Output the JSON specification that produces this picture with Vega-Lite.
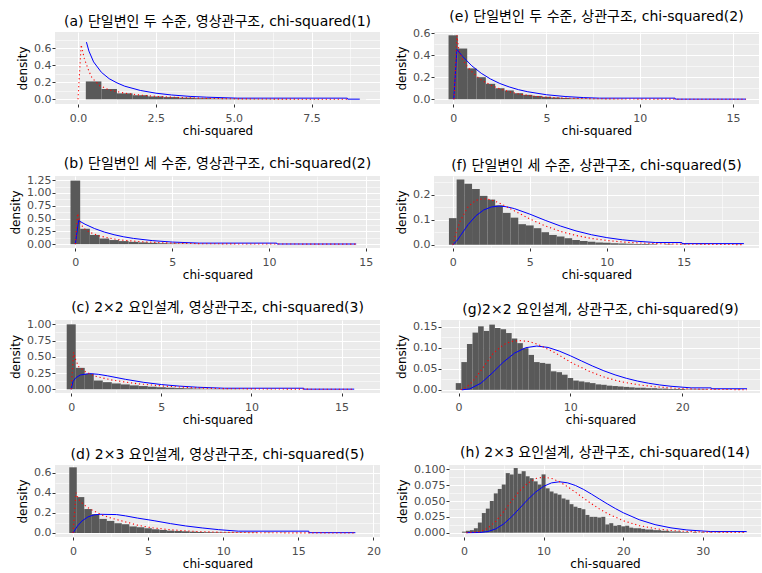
{
"$schema":"https://vega.github.io/schema/vega-lite/v6.json",
"padding":{"left":9,"top":10,"right":0,"bottom":0},
"config":{
"view":{"fill":"#EBEBEB","stroke":null},
"font":"DejaVu Sans, Noto Sans CJK KR",
"axis":{"domain":false,"grid":true,"gridColor":"#FFFFFF","tickColor":"#333333","tickSize":3,"tickWidth":1,"labelColor":"#4D4D4D","labelFont":"DejaVu Sans","labelFontSize":11,"labelPadding":1,"titleFont":"DejaVu Sans","titleFontSize":12,"titleFontWeight":"normal","titleColor":"#000000","titlePadding":4,"labelOverlap":false,"labelFlush":false},
"axisX":{"labelPadding":5,"titlePadding":2},
"title":{"fontSize":14,"fontWeight":"normal","color":"#000000","anchor":"middle","frame":"group","offset":3,"baseline":"alphabetic","font":"DejaVu Sans, Noto Sans CJK KR"}
},
"datasets":{
"a":[
{"k":"h","x":0.25,"x2":0.75,"y":0.21},{"k":"h","x":0.75,"x2":1.25,"y":0.12},{"k":"h","x":1.25,"x2":1.75,"y":0.07},{"k":"h","x":1.75,"x2":2.25,"y":0.048},{"k":"h","x":2.25,"x2":2.75,"y":0.034},{"k":"h","x":2.75,"x2":3.25,"y":0.026},{"k":"h","x":3.25,"x2":3.75,"y":0.019},{"k":"h","x":3.75,"x2":4.25,"y":0.013},{"k":"h","x":4.25,"x2":4.75,"y":0.009},{"k":"h","x":4.75,"x2":5.25,"y":0.007},{"k":"h","x":5.25,"x2":5.75,"y":0.005},{"k":"h","x":5.75,"x2":6.25,"y":0.004},{"k":"h","x":6.25,"x2":6.75,"y":0.003},{"k":"h","x":6.75,"x2":7.25,"y":0.002},{"k":"h","x":7.25,"x2":7.75,"y":0.002},{"k":"h","x":7.75,"x2":8.25,"y":0.001},{"k":"h","x":8.25,"x2":8.75,"y":0.001},{"k":"h","x":8.75,"x2":9.25,"y":0.001},
{"k":"b","x":0.27,"y":0.671},{"k":"b","x":0.35,"y":0.566},{"k":"b","x":0.5,"y":0.439},{"k":"b","x":0.75,"y":0.317},{"k":"b","x":1,"y":0.242},{"k":"b","x":1.25,"y":0.193},{"k":"b","x":1.5,"y":0.154},{"k":"b","x":2,"y":0.104},{"k":"b","x":2.5,"y":0.072},{"k":"b","x":3,"y":0.051},{"k":"b","x":3.6,"y":0.034},{"k":"b","x":4.13,"y":0.025},{"k":"b","x":5.13,"y":0.0137},{"k":"b","x":8.65,"y":0.0137},{"k":"b","x":8.66,"y":0.0019},{"k":"b","x":9.05,"y":0.0019},
{"k":"r","x":0,"y":0},{"k":"r","x":0.1,"y":0.64},{"k":"r","x":0.2,"y":0.48},{"k":"r","x":0.35,"y":0.33},{"k":"r","x":0.45,"y":0.25},{"k":"r","x":0.7,"y":0.16},{"k":"r","x":1,"y":0.11},{"k":"r","x":1.5,"y":0.072},{"k":"r","x":2,"y":0.05},{"k":"r","x":2.5,"y":0.035},{"k":"r","x":3,"y":0.025},{"k":"r","x":4,"y":0.012},{"k":"r","x":5,"y":0.006},{"k":"r","x":6.5,"y":0.002},{"k":"r","x":8.7,"y":0.0005}
],
"e":[
{"k":"h","x":-0.25,"x2":0.25,"y":0.58},{"k":"h","x":0.25,"x2":0.75,"y":0.46},{"k":"h","x":0.75,"x2":1.25,"y":0.28},{"k":"h","x":1.25,"x2":1.75,"y":0.2},{"k":"h","x":1.75,"x2":2.25,"y":0.14},{"k":"h","x":2.25,"x2":2.75,"y":0.1},{"k":"h","x":2.75,"x2":3.25,"y":0.08},{"k":"h","x":3.25,"x2":3.75,"y":0.055},{"k":"h","x":3.75,"x2":4.25,"y":0.04},{"k":"h","x":4.25,"x2":4.75,"y":0.03},{"k":"h","x":4.75,"x2":5.25,"y":0.022},{"k":"h","x":5.25,"x2":5.75,"y":0.016},{"k":"h","x":5.75,"x2":6.25,"y":0.012},{"k":"h","x":6.25,"x2":6.75,"y":0.008},{"k":"h","x":6.75,"x2":7.25,"y":0.006},{"k":"h","x":7.25,"x2":7.75,"y":0.004},{"k":"h","x":7.75,"x2":8.25,"y":0.003},{"k":"h","x":8.25,"x2":8.75,"y":0.002},{"k":"h","x":8.75,"x2":9.25,"y":0.0015},{"k":"h","x":9.75,"x2":10.25,"y":0.001},{"k":"h","x":10.75,"x2":11.25,"y":0.001},{"k":"h","x":11.75,"x2":12.25,"y":0.0005},{"k":"h","x":15.25,"x2":15.75,"y":0.0005},
{"k":"b","x":0.03,"y":0},{"k":"b","x":0.2,"y":0.452},{"k":"b","x":0.5,"y":0.389},{"k":"b","x":1,"y":0.303},{"k":"b","x":1.5,"y":0.236},{"k":"b","x":2,"y":0.184},{"k":"b","x":2.5,"y":0.143},{"k":"b","x":3,"y":0.112},{"k":"b","x":3.5,"y":0.087},{"k":"b","x":4,"y":0.068},{"k":"b","x":5,"y":0.041},{"k":"b","x":6,"y":0.025},{"k":"b","x":7,"y":0.015},{"k":"b","x":7.84,"y":0.01},{"k":"b","x":11.9,"y":0.01},{"k":"b","x":11.91,"y":0.0013},{"k":"b","x":15.7,"y":0.0013},
{"k":"r","x":0.05,"y":0},{"k":"r","x":0.2,"y":0.58},{"k":"r","x":0.3,"y":0.45},{"k":"r","x":0.5,"y":0.36},{"k":"r","x":0.78,"y":0.29},{"k":"r","x":1,"y":0.25},{"k":"r","x":1.45,"y":0.18},{"k":"r","x":2,"y":0.13},{"k":"r","x":2.4,"y":0.1},{"k":"r","x":3,"y":0.068},{"k":"r","x":3.6,"y":0.045},{"k":"r","x":4.5,"y":0.025},{"k":"r","x":5.5,"y":0.014},{"k":"r","x":6.5,"y":0.008},{"k":"r","x":8,"y":0.004},{"k":"r","x":10,"y":0.0015},{"k":"r","x":12,"y":0.0007},{"k":"r","x":15.7,"y":0.0001}
],
"b":[
{"k":"h","x":-0.25,"x2":0.25,"y":1.24},{"k":"h","x":0.25,"x2":0.75,"y":0.3},{"k":"h","x":0.75,"x2":1.25,"y":0.18},{"k":"h","x":1.25,"x2":1.75,"y":0.11},{"k":"h","x":1.75,"x2":2.25,"y":0.08},{"k":"h","x":2.25,"x2":2.75,"y":0.06},{"k":"h","x":2.75,"x2":3.25,"y":0.045},{"k":"h","x":3.25,"x2":3.75,"y":0.035},{"k":"h","x":3.75,"x2":4.25,"y":0.026},{"k":"h","x":4.25,"x2":4.75,"y":0.019},{"k":"h","x":4.75,"x2":5.25,"y":0.014},{"k":"h","x":5.25,"x2":5.75,"y":0.01},{"k":"h","x":5.75,"x2":6.25,"y":0.007},{"k":"h","x":6.25,"x2":6.75,"y":0.005},{"k":"h","x":6.75,"x2":7.25,"y":0.004},{"k":"h","x":7.25,"x2":7.75,"y":0.003},{"k":"h","x":7.75,"x2":8.25,"y":0.002},{"k":"h","x":8.75,"x2":9.25,"y":0.0015},{"k":"h","x":9.75,"x2":10.25,"y":0.001},{"k":"h","x":10.75,"x2":11.25,"y":0.0005},{"k":"h","x":14.25,"x2":14.75,"y":0.0005},
{"k":"b","x":0,"y":0},{"k":"b","x":0.17,"y":0.46},{"k":"b","x":0.5,"y":0.389},{"k":"b","x":1,"y":0.303},{"k":"b","x":1.5,"y":0.236},{"k":"b","x":2,"y":0.184},{"k":"b","x":2.5,"y":0.143},{"k":"b","x":3,"y":0.112},{"k":"b","x":4,"y":0.068},{"k":"b","x":5,"y":0.041},{"k":"b","x":6.4,"y":0.0204},{"k":"b","x":10.4,"y":0.0204},{"k":"b","x":10.41,"y":0.0028},{"k":"b","x":14.5,"y":0.0028},
{"k":"r","x":0,"y":0},{"k":"r","x":0.12,"y":0.6},{"k":"r","x":0.25,"y":0.4},{"k":"r","x":0.5,"y":0.29},{"k":"r","x":0.75,"y":0.23},{"k":"r","x":1.25,"y":0.16},{"k":"r","x":2,"y":0.1},{"k":"r","x":2.5,"y":0.075},{"k":"r","x":3.5,"y":0.045},{"k":"r","x":5,"y":0.02},{"k":"r","x":6.5,"y":0.009},{"k":"r","x":8.5,"y":0.004},{"k":"r","x":10.5,"y":0.002},{"k":"r","x":14.5,"y":0.0005}
],
"f":[
{"k":"h","x":-0.25,"x2":0.25,"y":0.106},{"k":"h","x":0.25,"x2":0.75,"y":0.26},{"k":"h","x":0.75,"x2":1.25,"y":0.243},{"k":"h","x":1.25,"x2":1.75,"y":0.222},{"k":"h","x":1.75,"x2":2.25,"y":0.195},{"k":"h","x":2.25,"x2":2.75,"y":0.18},{"k":"h","x":2.75,"x2":3.25,"y":0.157},{"k":"h","x":3.25,"x2":3.75,"y":0.127},{"k":"h","x":3.75,"x2":4.25,"y":0.108},{"k":"h","x":4.25,"x2":4.75,"y":0.082},{"k":"h","x":4.75,"x2":5.25,"y":0.077},{"k":"h","x":5.25,"x2":5.75,"y":0.066},{"k":"h","x":5.75,"x2":6.25,"y":0.05},{"k":"h","x":6.25,"x2":6.75,"y":0.039},{"k":"h","x":6.75,"x2":7.25,"y":0.033},{"k":"h","x":7.25,"x2":7.75,"y":0.026},{"k":"h","x":7.75,"x2":8.25,"y":0.019},{"k":"h","x":8.25,"x2":8.75,"y":0.015},{"k":"h","x":8.75,"x2":9.25,"y":0.012},{"k":"h","x":9.25,"x2":9.75,"y":0.009},{"k":"h","x":9.75,"x2":10.25,"y":0.008},{"k":"h","x":10.25,"x2":10.75,"y":0.006},{"k":"h","x":10.75,"x2":11.25,"y":0.005},{"k":"h","x":11.25,"x2":11.75,"y":0.004},{"k":"h","x":11.75,"x2":12.25,"y":0.003},{"k":"h","x":12.25,"x2":12.75,"y":0.003},{"k":"h","x":12.75,"x2":13.25,"y":0.002},{"k":"h","x":13.75,"x2":14.25,"y":0.0015},{"k":"h","x":14.75,"x2":15.25,"y":0.001},{"k":"h","x":15.75,"x2":16.25,"y":0.0005},{"k":"h","x":18.25,"x2":18.75,"y":0.0005},
{"k":"b","x":0,"y":0},{"k":"b","x":0.25,"y":0.0147},{"k":"b","x":0.5,"y":0.0366},{"k":"b","x":1,"y":0.0807},{"k":"b","x":1.5,"y":0.1154},{"k":"b","x":2,"y":0.1384},{"k":"b","x":2.5,"y":0.1506},{"k":"b","x":3,"y":0.1542},{"k":"b","x":3.5,"y":0.1513},{"k":"b","x":4,"y":0.144},{"k":"b","x":5,"y":0.122},{"k":"b","x":6,"y":0.0973},{"k":"b","x":7,"y":0.0744},{"k":"b","x":8,"y":0.0551},{"k":"b","x":9,"y":0.0399},{"k":"b","x":10,"y":0.0283},{"k":"b","x":11,"y":0.0198},{"k":"b","x":12,"y":0.0137},{"k":"b","x":13.15,"y":0.0088},{"k":"b","x":14.87,"y":0.0088},{"k":"b","x":14.88,"y":0.0045},{"k":"b","x":18.9,"y":0.0045},
{"k":"r","x":0,"y":0},{"k":"r","x":0.25,"y":0.055},{"k":"r","x":0.5,"y":0.097},{"k":"r","x":1,"y":0.152},{"k":"r","x":1.5,"y":0.177},{"k":"r","x":2,"y":0.184},{"k":"r","x":2.5,"y":0.179},{"k":"r","x":3,"y":0.167},{"k":"r","x":4,"y":0.135},{"k":"r","x":5,"y":0.103},{"k":"r","x":6,"y":0.075},{"k":"r","x":7,"y":0.053},{"k":"r","x":8,"y":0.037},{"k":"r","x":9,"y":0.025},{"k":"r","x":10,"y":0.017},{"k":"r","x":11,"y":0.011},{"k":"r","x":12,"y":0.0074},{"k":"r","x":13.2,"y":0.0045},{"k":"r","x":14.9,"y":0.0022},{"k":"r","x":18.9,"y":0.0004}
],
"c":[
{"k":"h","x":-0.25,"x2":0.25,"y":1.0},{"k":"h","x":0.25,"x2":0.75,"y":0.33},{"k":"h","x":0.75,"x2":1.25,"y":0.24},{"k":"h","x":1.25,"x2":1.75,"y":0.135},{"k":"h","x":1.75,"x2":2.25,"y":0.11},{"k":"h","x":2.25,"x2":2.75,"y":0.09},{"k":"h","x":2.75,"x2":3.25,"y":0.075},{"k":"h","x":3.25,"x2":3.75,"y":0.06},{"k":"h","x":3.75,"x2":4.25,"y":0.05},{"k":"h","x":4.25,"x2":4.75,"y":0.04},{"k":"h","x":4.75,"x2":5.25,"y":0.032},{"k":"h","x":5.25,"x2":5.75,"y":0.025},{"k":"h","x":5.75,"x2":6.25,"y":0.019},{"k":"h","x":6.25,"x2":6.75,"y":0.015},{"k":"h","x":6.75,"x2":7.25,"y":0.011},{"k":"h","x":7.25,"x2":7.75,"y":0.008},{"k":"h","x":7.75,"x2":8.25,"y":0.006},{"k":"h","x":8.25,"x2":8.75,"y":0.005},{"k":"h","x":8.75,"x2":9.25,"y":0.004},{"k":"h","x":9.25,"x2":9.75,"y":0.003},{"k":"h","x":9.75,"x2":10.25,"y":0.002},{"k":"h","x":10.75,"x2":11.25,"y":0.0015},{"k":"h","x":11.75,"x2":12.25,"y":0.001},{"k":"h","x":12.75,"x2":13.25,"y":0.0005},
{"k":"b","x":0,"y":0},{"k":"b","x":0.1,"y":0.12},{"k":"b","x":0.25,"y":0.176},{"k":"b","x":0.5,"y":0.22},{"k":"b","x":1,"y":0.242},{"k":"b","x":1.5,"y":0.231},{"k":"b","x":2,"y":0.208},{"k":"b","x":3,"y":0.154},{"k":"b","x":4,"y":0.108},{"k":"b","x":5,"y":0.073},{"k":"b","x":6,"y":0.049},{"k":"b","x":7,"y":0.032},{"k":"b","x":8.5,"y":0.0166},{"k":"b","x":12.9,"y":0.0166},{"k":"b","x":12.91,"y":0.0022},{"k":"b","x":15.7,"y":0.0022},
{"k":"r","x":0,"y":0},{"k":"r","x":0.13,"y":0.57},{"k":"r","x":0.25,"y":0.45},{"k":"r","x":0.41,"y":0.35},{"k":"r","x":0.79,"y":0.27},{"k":"r","x":1.35,"y":0.2},{"k":"r","x":2.3,"y":0.14},{"k":"r","x":3.6,"y":0.088},{"k":"r","x":5.1,"y":0.05},{"k":"r","x":7,"y":0.02},{"k":"r","x":8.5,"y":0.01},{"k":"r","x":10.7,"y":0.005},{"k":"r","x":13,"y":0.002},{"k":"r","x":15.7,"y":0.0005}
],
"g":[
{"k":"h","x":-0.25,"x2":0.25,"y":0.016},{"k":"h","x":0.25,"x2":0.75,"y":0.066},{"k":"h","x":0.75,"x2":1.25,"y":0.109},{"k":"h","x":1.25,"x2":1.75,"y":0.136},{"k":"h","x":1.75,"x2":2.25,"y":0.151},{"k":"h","x":2.25,"x2":2.75,"y":0.14},{"k":"h","x":2.75,"x2":3.25,"y":0.155},{"k":"h","x":3.25,"x2":3.75,"y":0.147},{"k":"h","x":3.75,"x2":4.25,"y":0.144},{"k":"h","x":4.25,"x2":4.75,"y":0.135},{"k":"h","x":4.75,"x2":5.25,"y":0.122},{"k":"h","x":5.25,"x2":5.75,"y":0.111},{"k":"h","x":5.75,"x2":6.25,"y":0.099},{"k":"h","x":6.25,"x2":6.75,"y":0.083},{"k":"h","x":6.75,"x2":7.25,"y":0.066},{"k":"h","x":7.25,"x2":7.75,"y":0.064},{"k":"h","x":7.75,"x2":8.25,"y":0.062},{"k":"h","x":8.25,"x2":8.75,"y":0.044},{"k":"h","x":8.75,"x2":9.25,"y":0.042},{"k":"h","x":9.25,"x2":9.75,"y":0.036},{"k":"h","x":9.75,"x2":10.25,"y":0.028},{"k":"h","x":10.25,"x2":10.75,"y":0.022},{"k":"h","x":10.75,"x2":11.25,"y":0.02},{"k":"h","x":11.25,"x2":11.75,"y":0.018},{"k":"h","x":11.75,"x2":12.25,"y":0.016},{"k":"h","x":12.25,"x2":12.75,"y":0.013},{"k":"h","x":12.75,"x2":13.25,"y":0.012},{"k":"h","x":13.25,"x2":13.75,"y":0.01},{"k":"h","x":13.75,"x2":14.25,"y":0.009},{"k":"h","x":14.25,"x2":14.75,"y":0.008},{"k":"h","x":14.75,"x2":15.25,"y":0.007},{"k":"h","x":15.25,"x2":15.75,"y":0.006},{"k":"h","x":15.75,"x2":16.25,"y":0.005},{"k":"h","x":16.25,"x2":16.75,"y":0.005},{"k":"h","x":16.75,"x2":17.25,"y":0.004},{"k":"h","x":17.25,"x2":17.75,"y":0.004},{"k":"h","x":17.75,"x2":18.25,"y":0.003},{"k":"h","x":18.25,"x2":18.75,"y":0.003},{"k":"h","x":18.75,"x2":19.25,"y":0.002},{"k":"h","x":19.25,"x2":19.75,"y":0.002},{"k":"h","x":19.75,"x2":20.25,"y":0.002},{"k":"h","x":20.25,"x2":20.75,"y":0.001},{"k":"h","x":20.75,"x2":21.25,"y":0.001},{"k":"h","x":21.25,"x2":21.75,"y":0.001},{"k":"h","x":21.75,"x2":22.25,"y":0.001},{"k":"h","x":22.75,"x2":23.25,"y":0.0005},{"k":"h","x":23.75,"x2":24.25,"y":0.0005},{"k":"h","x":24.75,"x2":25.25,"y":0.0005},
{"k":"b","x":0.3,"y":0},{"k":"b","x":1,"y":0.0023},{"k":"b","x":2,"y":0.0158},{"k":"b","x":3,"y":0.0396},{"k":"b","x":4,"y":0.0658},{"k":"b","x":5,"y":0.0872},{"k":"b","x":6,"y":0.1001},{"k":"b","x":7,"y":0.1041},{"k":"b","x":8,"y":0.1008},{"k":"b","x":9,"y":0.0922},{"k":"b","x":10,"y":0.081},{"k":"b","x":11,"y":0.0686},{"k":"b","x":12,"y":0.0564},{"k":"b","x":13,"y":0.0452},{"k":"b","x":14,"y":0.0356},{"k":"b","x":15,"y":0.0275},{"k":"b","x":16,"y":0.0209},{"k":"b","x":17,"y":0.0157},{"k":"b","x":18,"y":0.0116},{"k":"b","x":19,"y":0.0085},{"k":"b","x":20.8,"y":0.0047},{"k":"b","x":22.6,"y":0.0047},{"k":"b","x":22.61,"y":0.0026},{"k":"b","x":25.8,"y":0.0026},
{"k":"r","x":0.2,"y":0},{"k":"r","x":0.7,"y":0.006},{"k":"r","x":1.3,"y":0.021},{"k":"r","x":2.2,"y":0.053},{"k":"r","x":3.1,"y":0.087},{"k":"r","x":4,"y":0.107},{"k":"r","x":4.7,"y":0.115},{"k":"r","x":5.45,"y":0.117},{"k":"r","x":6.3,"y":0.115},{"k":"r","x":7.2,"y":0.107},{"k":"r","x":8.7,"y":0.087},{"k":"r","x":10.2,"y":0.063},{"k":"r","x":11.7,"y":0.044},{"k":"r","x":13.15,"y":0.029},{"k":"r","x":14.6,"y":0.019},{"k":"r","x":16.1,"y":0.012},{"k":"r","x":17.5,"y":0.0075},{"k":"r","x":19.8,"y":0.003},{"k":"r","x":22,"y":0.0013},{"k":"r","x":25.8,"y":0.0003}
],
"d":[
{"k":"h","x":-0.25,"x2":0.25,"y":0.653},{"k":"h","x":0.25,"x2":0.75,"y":0.357},{"k":"h","x":0.75,"x2":1.25,"y":0.238},{"k":"h","x":1.25,"x2":1.75,"y":0.187},{"k":"h","x":1.75,"x2":2.25,"y":0.14},{"k":"h","x":2.25,"x2":2.75,"y":0.12},{"k":"h","x":2.75,"x2":3.25,"y":0.097},{"k":"h","x":3.25,"x2":3.75,"y":0.087},{"k":"h","x":3.75,"x2":4.25,"y":0.065},{"k":"h","x":4.25,"x2":4.75,"y":0.057},{"k":"h","x":4.75,"x2":5.25,"y":0.047},{"k":"h","x":5.25,"x2":5.75,"y":0.037},{"k":"h","x":5.75,"x2":6.25,"y":0.03},{"k":"h","x":6.25,"x2":6.75,"y":0.023},{"k":"h","x":6.75,"x2":7.25,"y":0.02},{"k":"h","x":7.25,"x2":7.75,"y":0.017},{"k":"h","x":7.75,"x2":8.25,"y":0.013},{"k":"h","x":8.25,"x2":8.75,"y":0.01},{"k":"h","x":8.75,"x2":9.25,"y":0.008},{"k":"h","x":9.25,"x2":9.75,"y":0.007},{"k":"h","x":9.75,"x2":10.25,"y":0.006},{"k":"h","x":10.25,"x2":10.75,"y":0.005},{"k":"h","x":10.75,"x2":11.25,"y":0.004},{"k":"h","x":11.25,"x2":11.75,"y":0.003},{"k":"h","x":11.75,"x2":12.25,"y":0.003},{"k":"h","x":12.75,"x2":13.25,"y":0.002},{"k":"h","x":13.75,"x2":14.25,"y":0.0015},{"k":"h","x":14.75,"x2":15.25,"y":0.001},{"k":"h","x":15.75,"x2":16.25,"y":0.001},{"k":"h","x":16.75,"x2":17.25,"y":0.0005},{"k":"h","x":18.25,"x2":18.75,"y":0.0005},
{"k":"b","x":0,"y":0},{"k":"b","x":0.3,"y":0.07},{"k":"b","x":0.6,"y":0.12},{"k":"b","x":1,"y":0.16},{"k":"b","x":1.4,"y":0.18},{"k":"b","x":1.8,"y":0.186},{"k":"b","x":2.9,"y":0.183},{"k":"b","x":3.5,"y":0.17},{"k":"b","x":4.3,"y":0.148},{"k":"b","x":5.4,"y":0.122},{"k":"b","x":6.5,"y":0.093},{"k":"b","x":7.5,"y":0.07},{"k":"b","x":8.6,"y":0.05},{"k":"b","x":9.7,"y":0.033},{"k":"b","x":11,"y":0.018},{"k":"b","x":15.7,"y":0.018},{"k":"b","x":15.71,"y":0.003},{"k":"b","x":18.8,"y":0.003},
{"k":"r","x":0,"y":0},{"k":"r","x":0.2,"y":0.4},{"k":"r","x":0.35,"y":0.34},{"k":"r","x":0.65,"y":0.29},{"k":"r","x":1,"y":0.25},{"k":"r","x":1.5,"y":0.21},{"k":"r","x":2,"y":0.175},{"k":"r","x":2.6,"y":0.145},{"k":"r","x":3.5,"y":0.11},{"k":"r","x":4.3,"y":0.078},{"k":"r","x":5.2,"y":0.053},{"k":"r","x":6.3,"y":0.035},{"k":"r","x":7.4,"y":0.022},{"k":"r","x":8.5,"y":0.013},{"k":"r","x":10,"y":0.007},{"k":"r","x":11,"y":0.005},{"k":"r","x":13,"y":0.002},{"k":"r","x":15.7,"y":0.0007},{"k":"r","x":18.8,"y":0.0002}
],
"h":[
{"k":"h","x":-0.25,"x2":0.25,"y":0.0016},{"k":"h","x":0.25,"x2":0.75,"y":0.003},{"k":"h","x":0.75,"x2":1.25,"y":0.004},{"k":"h","x":1.25,"x2":1.75,"y":0.007},{"k":"h","x":1.75,"x2":2.25,"y":0.016},{"k":"h","x":2.25,"x2":2.75,"y":0.031},{"k":"h","x":2.75,"x2":3.25,"y":0.038},{"k":"h","x":3.25,"x2":3.75,"y":0.05},{"k":"h","x":3.75,"x2":4.25,"y":0.062},{"k":"h","x":4.25,"x2":4.75,"y":0.069},{"k":"h","x":4.75,"x2":5.25,"y":0.076},{"k":"h","x":5.25,"x2":5.75,"y":0.094},{"k":"h","x":5.75,"x2":6.25,"y":0.092},{"k":"h","x":6.25,"x2":6.75,"y":0.102},{"k":"h","x":6.75,"x2":7.25,"y":0.093},{"k":"h","x":7.25,"x2":7.75,"y":0.097},{"k":"h","x":7.75,"x2":8.25,"y":0.089},{"k":"h","x":8.25,"x2":8.75,"y":0.086},{"k":"h","x":8.75,"x2":9.25,"y":0.081},{"k":"h","x":9.25,"x2":9.75,"y":0.076},{"k":"h","x":9.75,"x2":10.25,"y":0.092},{"k":"h","x":10.25,"x2":10.75,"y":0.07},{"k":"h","x":10.75,"x2":11.25,"y":0.065},{"k":"h","x":11.25,"x2":11.75,"y":0.062},{"k":"h","x":11.75,"x2":12.25,"y":0.06},{"k":"h","x":12.25,"x2":12.75,"y":0.054},{"k":"h","x":12.75,"x2":13.25,"y":0.052},{"k":"h","x":13.25,"x2":13.75,"y":0.045},{"k":"h","x":13.75,"x2":14.25,"y":0.041},{"k":"h","x":14.25,"x2":14.75,"y":0.039},{"k":"h","x":14.75,"x2":15.25,"y":0.037},{"k":"h","x":15.25,"x2":15.75,"y":0.028},{"k":"h","x":15.75,"x2":16.25,"y":0.025},{"k":"h","x":16.25,"x2":16.75,"y":0.025},{"k":"h","x":16.75,"x2":17.25,"y":0.024},{"k":"h","x":17.25,"x2":17.75,"y":0.025},{"k":"h","x":17.75,"x2":18.25,"y":0.013},{"k":"h","x":18.25,"x2":18.75,"y":0.015},{"k":"h","x":18.75,"x2":19.25,"y":0.011},{"k":"h","x":19.25,"x2":19.75,"y":0.012},{"k":"h","x":19.75,"x2":20.25,"y":0.01},{"k":"h","x":20.25,"x2":20.75,"y":0.011},{"k":"h","x":20.75,"x2":21.25,"y":0.008},{"k":"h","x":21.25,"x2":21.75,"y":0.007},{"k":"h","x":21.75,"x2":22.25,"y":0.007},{"k":"h","x":22.25,"x2":22.75,"y":0.006},{"k":"h","x":22.75,"x2":23.25,"y":0.005},{"k":"h","x":23.25,"x2":23.75,"y":0.005},{"k":"h","x":23.75,"x2":24.25,"y":0.004},{"k":"h","x":24.25,"x2":24.75,"y":0.004},{"k":"h","x":24.75,"x2":25.25,"y":0.003},{"k":"h","x":25.25,"x2":25.75,"y":0.003},{"k":"h","x":25.75,"x2":26.25,"y":0.002},{"k":"h","x":26.25,"x2":26.75,"y":0.002},{"k":"h","x":26.75,"x2":27.25,"y":0.002},{"k":"h","x":27.25,"x2":27.75,"y":0.001},{"k":"h","x":27.75,"x2":28.25,"y":0.001},{"k":"h","x":28.75,"x2":29.25,"y":0.001},{"k":"h","x":29.75,"x2":30.25,"y":0.0008},{"k":"h","x":30.75,"x2":31.25,"y":0.0005},{"k":"h","x":31.75,"x2":32.25,"y":0.0005},{"k":"h","x":32.75,"x2":33.25,"y":0.0003},{"k":"h","x":34.75,"x2":35.25,"y":0.0003},
{"k":"b","x":0.3,"y":0},{"k":"b","x":2,"y":0.0003},{"k":"b","x":3,"y":0.0018},{"k":"b","x":4,"y":0.006},{"k":"b","x":5,"y":0.0139},{"k":"b","x":6,"y":0.0252},{"k":"b","x":7,"y":0.0386},{"k":"b","x":8,"y":0.0521},{"k":"b","x":9,"y":0.0641},{"k":"b","x":10,"y":0.0731},{"k":"b","x":11,"y":0.0786},{"k":"b","x":12,"y":0.0803},{"k":"b","x":13,"y":0.0787},{"k":"b","x":14,"y":0.0745},{"k":"b","x":15,"y":0.0684},{"k":"b","x":16,"y":0.061},{"k":"b","x":17,"y":0.0532},{"k":"b","x":18,"y":0.0455},{"k":"b","x":19,"y":0.0382},{"k":"b","x":20,"y":0.0315},{"k":"b","x":22,"y":0.0205},{"k":"b","x":24,"y":0.0127},{"k":"b","x":26,"y":0.0076},{"k":"b","x":28,"y":0.0043},{"k":"b","x":31,"y":0.0018},{"k":"b","x":35.5,"y":0.0018},
{"k":"r","x":0.3,"y":0},{"k":"r","x":2,"y":0.0015},{"k":"r","x":3,"y":0.0071},{"k":"r","x":4,"y":0.018},{"k":"r","x":5,"y":0.0334},{"k":"r","x":6,"y":0.0504},{"k":"r","x":7,"y":0.0661},{"k":"r","x":8,"y":0.0781},{"k":"r","x":9,"y":0.0854},{"k":"r","x":10,"y":0.0877},{"k":"r","x":11,"y":0.0857},{"k":"r","x":12,"y":0.0803},{"k":"r","x":13,"y":0.0727},{"k":"r","x":14,"y":0.0639},{"k":"r","x":15,"y":0.0547},{"k":"r","x":16,"y":0.0458},{"k":"r","x":17,"y":0.0376},{"k":"r","x":18,"y":0.0304},{"k":"r","x":20,"y":0.0189},{"k":"r","x":22,"y":0.0112},{"k":"r","x":24,"y":0.0064},{"k":"r","x":26,"y":0.0035},{"k":"r","x":28,"y":0.0019},{"k":"r","x":31,"y":0.0007},{"k":"r","x":35.5,"y":0.0002}
]
},
"spacing":21,
"vconcat":[
{"spacing":15,"hconcat":[
{"width":325,"height":72,"title":"(a) 단일변인 두 수준, 영상관구조, chi-squared(1)","data":{"name":"a"},
"encoding":{
"x":{"field":"x","type":"quantitative","title":"chi-squared","scale":{"domain":[-0.74,9.7],"nice":false,"zero":false},
"axis":{"values":[0,1.25,2.5,3.75,5,6.25,7.5,8.75],"labelExpr":"indexof([0,2.5,5,7.5], datum.value) >= 0 ? format(datum.value, '.1f') : ''","gridWidth":{"condition":{"test":"indexof([0,2.5,5,7.5], datum.value) >= 0","value":1.1},"value":0.55},"tickOpacity":{"condition":{"test":"indexof([0,2.5,5,7.5], datum.value) >= 0","value":1},"value":0}}},
"y":{"field":"y","type":"quantitative","title":"density","scale":{"domain":[-0.055,0.79],"nice":false,"zero":false},
"axis":{"values":[0,0.1,0.2,0.3,0.4,0.5,0.6,0.7],"labelExpr":"indexof([0,0.2,0.4,0.6], datum.value) >= 0 ? format(datum.value, '.1f') : ''","gridWidth":{"condition":{"test":"indexof([0,0.2,0.4,0.6], datum.value) >= 0","value":1.1},"value":0.55},"tickOpacity":{"condition":{"test":"indexof([0,0.2,0.4,0.6], datum.value) >= 0","value":1},"value":0}}}},
"layer":[
{"transform":[{"filter":"datum.k === 'h'"}],"mark":{"type":"rect","color":"#595959"},"encoding":{"x2":{"field":"x2"},"y2":{"datum":0}}},
{"transform":[{"filter":"datum.k === 'b'"}],"mark":{"type":"line","color":"#0000FF","strokeWidth":1,"clip":true},"encoding":{}},
{"transform":[{"filter":"datum.k === 'r'"}],"mark":{"type":"line","color":"#FF0000","strokeWidth":1.1,"strokeDash":[1.2,2.8],"clip":true},"encoding":{}}
]},
{"width":325,"height":72,"title":"(e) 단일변인 두 수준, 상관구조, chi-squared(2)","data":{"name":"e"},
"encoding":{
"x":{"field":"x","type":"quantitative","title":"chi-squared","scale":{"domain":[-1.03,16.4],"nice":false,"zero":false},
"axis":{"values":[0,2.5,5,7.5,10,12.5,15],"labelExpr":"indexof([0,5,10,15], datum.value) >= 0 ? format(datum.value, 'd') : ''","gridWidth":{"condition":{"test":"indexof([0,5,10,15], datum.value) >= 0","value":1.1},"value":0.55},"tickOpacity":{"condition":{"test":"indexof([0,5,10,15], datum.value) >= 0","value":1},"value":0}}},
"y":{"field":"y","type":"quantitative","title":"density","scale":{"domain":[-0.043,0.61],"nice":false,"zero":false},
"axis":{"values":[0,0.1,0.2,0.3,0.4,0.5,0.6],"labelExpr":"indexof([0,0.2,0.4,0.6], datum.value) >= 0 ? format(datum.value, '.1f') : ''","gridWidth":{"condition":{"test":"indexof([0,0.2,0.4,0.6], datum.value) >= 0","value":1.1},"value":0.55},"tickOpacity":{"condition":{"test":"indexof([0,0.2,0.4,0.6], datum.value) >= 0","value":1},"value":0}}}},
"layer":[
{"transform":[{"filter":"datum.k === 'h'"}],"mark":{"type":"rect","color":"#595959"},"encoding":{"x2":{"field":"x2"},"y2":{"datum":0}}},
{"transform":[{"filter":"datum.k === 'b'"}],"mark":{"type":"line","color":"#0000FF","strokeWidth":1,"clip":true},"encoding":{}},
{"transform":[{"filter":"datum.k === 'r'"}],"mark":{"type":"line","color":"#FF0000","strokeWidth":1.1,"strokeDash":[1.2,2.8],"clip":true},"encoding":{}}
]}
]},
{"spacing":15,"hconcat":[
{"width":325,"height":72,"title":"(b) 단일변인 세 수준, 영상관구조, chi-squared(2)","data":{"name":"b"},
"encoding":{
"x":{"field":"x","type":"quantitative","title":"chi-squared","scale":{"domain":[-1.05,15.73],"nice":false,"zero":false},
"axis":{"values":[0,2.5,5,7.5,10,12.5,15],"labelExpr":"indexof([0,5,10,15], datum.value) >= 0 ? format(datum.value, 'd') : ''","gridWidth":{"condition":{"test":"indexof([0,5,10,15], datum.value) >= 0","value":1.1},"value":0.55},"tickOpacity":{"condition":{"test":"indexof([0,5,10,15], datum.value) >= 0","value":1},"value":0}}},
"y":{"field":"y","type":"quantitative","title":"density","scale":{"domain":[-0.075,1.33],"nice":false,"zero":false},
"axis":{"values":[0,0.125,0.25,0.375,0.5,0.625,0.75,0.875,1,1.125,1.25],"labelExpr":"indexof([0,0.25,0.5,0.75,1,1.25], datum.value) >= 0 ? format(datum.value, '.2f') : ''","gridWidth":{"condition":{"test":"indexof([0,0.25,0.5,0.75,1,1.25], datum.value) >= 0","value":1.1},"value":0.55},"tickOpacity":{"condition":{"test":"indexof([0,0.25,0.5,0.75,1,1.25], datum.value) >= 0","value":1},"value":0}}}},
"layer":[
{"transform":[{"filter":"datum.k === 'h'"}],"mark":{"type":"rect","color":"#595959"},"encoding":{"x2":{"field":"x2"},"y2":{"datum":0}}},
{"transform":[{"filter":"datum.k === 'b'"}],"mark":{"type":"line","color":"#0000FF","strokeWidth":1,"clip":true},"encoding":{}},
{"transform":[{"filter":"datum.k === 'r'"}],"mark":{"type":"line","color":"#FF0000","strokeWidth":1.1,"strokeDash":[1.2,2.8],"clip":true},"encoding":{}}
]},
{"width":325,"height":72,"title":"(f) 단일변인 세 수준, 상관구조, chi-squared(5)","data":{"name":"f"},
"encoding":{
"x":{"field":"x","type":"quantitative","title":"chi-squared","scale":{"domain":[-1.22,19.88],"nice":false,"zero":false},
"axis":{"values":[0,2.5,5,7.5,10,12.5,15,17.5],"labelExpr":"indexof([0,5,10,15], datum.value) >= 0 ? format(datum.value, 'd') : ''","gridWidth":{"condition":{"test":"indexof([0,5,10,15], datum.value) >= 0","value":1.1},"value":0.55},"tickOpacity":{"condition":{"test":"indexof([0,5,10,15], datum.value) >= 0","value":1},"value":0}}},
"y":{"field":"y","type":"quantitative","title":"density","scale":{"domain":[-0.013,0.274],"nice":false,"zero":false},
"axis":{"values":[0,0.05,0.1,0.15,0.2,0.25],"labelExpr":"indexof([0,0.1,0.2], datum.value) >= 0 ? format(datum.value, '.1f') : ''","gridWidth":{"condition":{"test":"indexof([0,0.1,0.2], datum.value) >= 0","value":1.1},"value":0.55},"tickOpacity":{"condition":{"test":"indexof([0,0.1,0.2], datum.value) >= 0","value":1},"value":0}}}},
"layer":[
{"transform":[{"filter":"datum.k === 'h'"}],"mark":{"type":"rect","color":"#595959"},"encoding":{"x2":{"field":"x2"},"y2":{"datum":0}}},
{"transform":[{"filter":"datum.k === 'b'"}],"mark":{"type":"line","color":"#0000FF","strokeWidth":1,"clip":true},"encoding":{}},
{"transform":[{"filter":"datum.k === 'r'"}],"mark":{"type":"line","color":"#FF0000","strokeWidth":1.1,"strokeDash":[1.2,2.8],"clip":true},"encoding":{}}
]}
]},
{"spacing":15,"hconcat":[
{"width":325,"height":73,"title":"(c) 2×2 요인설계, 영상관구조, chi-squared(3)","data":{"name":"c"},
"encoding":{
"x":{"field":"x","type":"quantitative","title":"chi-squared","scale":{"domain":[-0.9,17.13],"nice":false,"zero":false},
"axis":{"values":[0,2.5,5,7.5,10,12.5,15],"labelExpr":"indexof([0,5,10,15], datum.value) >= 0 ? format(datum.value, 'd') : ''","gridWidth":{"condition":{"test":"indexof([0,5,10,15], datum.value) >= 0","value":1.1},"value":0.55},"tickOpacity":{"condition":{"test":"indexof([0,5,10,15], datum.value) >= 0","value":1},"value":0}}},
"y":{"field":"y","type":"quantitative","title":"density","scale":{"domain":[-0.057,1.067],"nice":false,"zero":false},
"axis":{"values":[0,0.125,0.25,0.375,0.5,0.625,0.75,0.875,1],"labelExpr":"indexof([0,0.25,0.5,0.75,1], datum.value) >= 0 ? format(datum.value, '.2f') : ''","gridWidth":{"condition":{"test":"indexof([0,0.25,0.5,0.75,1], datum.value) >= 0","value":1.1},"value":0.55},"tickOpacity":{"condition":{"test":"indexof([0,0.25,0.5,0.75,1], datum.value) >= 0","value":1},"value":0}}}},
"layer":[
{"transform":[{"filter":"datum.k === 'h'"}],"mark":{"type":"rect","color":"#595959"},"encoding":{"x2":{"field":"x2"},"y2":{"datum":0}}},
{"transform":[{"filter":"datum.k === 'b'"}],"mark":{"type":"line","color":"#0000FF","strokeWidth":1,"clip":true},"encoding":{}},
{"transform":[{"filter":"datum.k === 'r'"}],"mark":{"type":"line","color":"#FF0000","strokeWidth":1.1,"strokeDash":[1.2,2.8],"clip":true},"encoding":{}}
]},
{"width":319,"height":73,"title":"(g)2×2 요인설계, 상관구조, chi-squared(9)","data":{"name":"g"},
"encoding":{
"x":{"field":"x","type":"quantitative","title":"chi-squared","scale":{"domain":[-1.57,26.96],"nice":false,"zero":false},
"axis":{"values":[0,5,10,15,20,25],"labelExpr":"indexof([0,10,20], datum.value) >= 0 ? format(datum.value, 'd') : ''","gridWidth":{"condition":{"test":"indexof([0,10,20], datum.value) >= 0","value":1.1},"value":0.55},"tickOpacity":{"condition":{"test":"indexof([0,10,20], datum.value) >= 0","value":1},"value":0}}},
"y":{"field":"y","type":"quantitative","title":"density","scale":{"domain":[-0.0075,0.166],"nice":false,"zero":false},
"axis":{"values":[0,0.025,0.05,0.075,0.1,0.125,0.15],"labelExpr":"indexof([0,0.05,0.1,0.15], datum.value) >= 0 ? format(datum.value, '.2f') : ''","gridWidth":{"condition":{"test":"indexof([0,0.05,0.1,0.15], datum.value) >= 0","value":1.1},"value":0.55},"tickOpacity":{"condition":{"test":"indexof([0,0.05,0.1,0.15], datum.value) >= 0","value":1},"value":0}}}},
"layer":[
{"transform":[{"filter":"datum.k === 'h'"}],"mark":{"type":"rect","color":"#595959"},"encoding":{"x2":{"field":"x2"},"y2":{"datum":0}}},
{"transform":[{"filter":"datum.k === 'b'"}],"mark":{"type":"line","color":"#0000FF","strokeWidth":1,"clip":true},"encoding":{}},
{"transform":[{"filter":"datum.k === 'r'"}],"mark":{"type":"line","color":"#FF0000","strokeWidth":1.1,"strokeDash":[1.2,2.8],"clip":true},"encoding":{}}
]}
]},
{"spacing":15,"hconcat":[
{"width":325,"height":72,"title":"(d) 2×3 요인설계, 영상관구조, chi-squared(5)","data":{"name":"d"},
"encoding":{
"x":{"field":"x","type":"quantitative","title":"chi-squared","scale":{"domain":[-1.2,20.44],"nice":false,"zero":false},
"axis":{"values":[0,2.5,5,7.5,10,12.5,15,17.5,20],"labelExpr":"indexof([0,5,10,15,20], datum.value) >= 0 ? format(datum.value, 'd') : ''","gridWidth":{"condition":{"test":"indexof([0,5,10,15,20], datum.value) >= 0","value":1.1},"value":0.55},"tickOpacity":{"condition":{"test":"indexof([0,5,10,15,20], datum.value) >= 0","value":1},"value":0}}},
"y":{"field":"y","type":"quantitative","title":"density","scale":{"domain":[-0.04,0.676],"nice":false,"zero":false},
"axis":{"values":[0,0.1,0.2,0.3,0.4,0.5,0.6],"labelExpr":"indexof([0,0.2,0.4,0.6], datum.value) >= 0 ? format(datum.value, '.1f') : ''","gridWidth":{"condition":{"test":"indexof([0,0.2,0.4,0.6], datum.value) >= 0","value":1.1},"value":0.55},"tickOpacity":{"condition":{"test":"indexof([0,0.2,0.4,0.6], datum.value) >= 0","value":1},"value":0}}}},
"layer":[
{"transform":[{"filter":"datum.k === 'h'"}],"mark":{"type":"rect","color":"#595959"},"encoding":{"x2":{"field":"x2"},"y2":{"datum":0}}},
{"transform":[{"filter":"datum.k === 'b'"}],"mark":{"type":"line","color":"#0000FF","strokeWidth":1,"clip":true},"encoding":{}},
{"transform":[{"filter":"datum.k === 'r'"}],"mark":{"type":"line","color":"#FF0000","strokeWidth":1.1,"strokeDash":[1.2,2.8],"clip":true},"encoding":{}}
]},
{"width":312,"height":72,"title":"(h) 2×3 요인설계, 상관구조, chi-squared(14)","data":{"name":"h"},
"encoding":{
"x":{"field":"x","type":"quantitative","title":"chi-squared","scale":{"domain":[-1.875,37.3],"nice":false,"zero":false},
"axis":{"values":[0,5,10,15,20,25,30,35],"labelExpr":"indexof([0,10,20,30], datum.value) >= 0 ? format(datum.value, 'd') : ''","gridWidth":{"condition":{"test":"indexof([0,10,20,30], datum.value) >= 0","value":1.1},"value":0.55},"tickOpacity":{"condition":{"test":"indexof([0,10,20,30], datum.value) >= 0","value":1},"value":0}}},
"y":{"field":"y","type":"quantitative","title":"density","scale":{"domain":[-0.0068,0.1068],"nice":false,"zero":false},
"axis":{"values":[0,0.0125,0.025,0.0375,0.05,0.0625,0.075,0.0875,0.1],"labelExpr":"indexof([0,0.025,0.05,0.075,0.1], datum.value) >= 0 ? format(datum.value, '.3f') : ''","gridWidth":{"condition":{"test":"indexof([0,0.025,0.05,0.075,0.1], datum.value) >= 0","value":1.1},"value":0.55},"tickOpacity":{"condition":{"test":"indexof([0,0.025,0.05,0.075,0.1], datum.value) >= 0","value":1},"value":0}}}},
"layer":[
{"transform":[{"filter":"datum.k === 'h'"}],"mark":{"type":"rect","color":"#595959"},"encoding":{"x2":{"field":"x2"},"y2":{"datum":0}}},
{"transform":[{"filter":"datum.k === 'b'"}],"mark":{"type":"line","color":"#0000FF","strokeWidth":1,"clip":true},"encoding":{}},
{"transform":[{"filter":"datum.k === 'r'"}],"mark":{"type":"line","color":"#FF0000","strokeWidth":1.1,"strokeDash":[1.2,2.8],"clip":true},"encoding":{}}
]}
]}
]
}
